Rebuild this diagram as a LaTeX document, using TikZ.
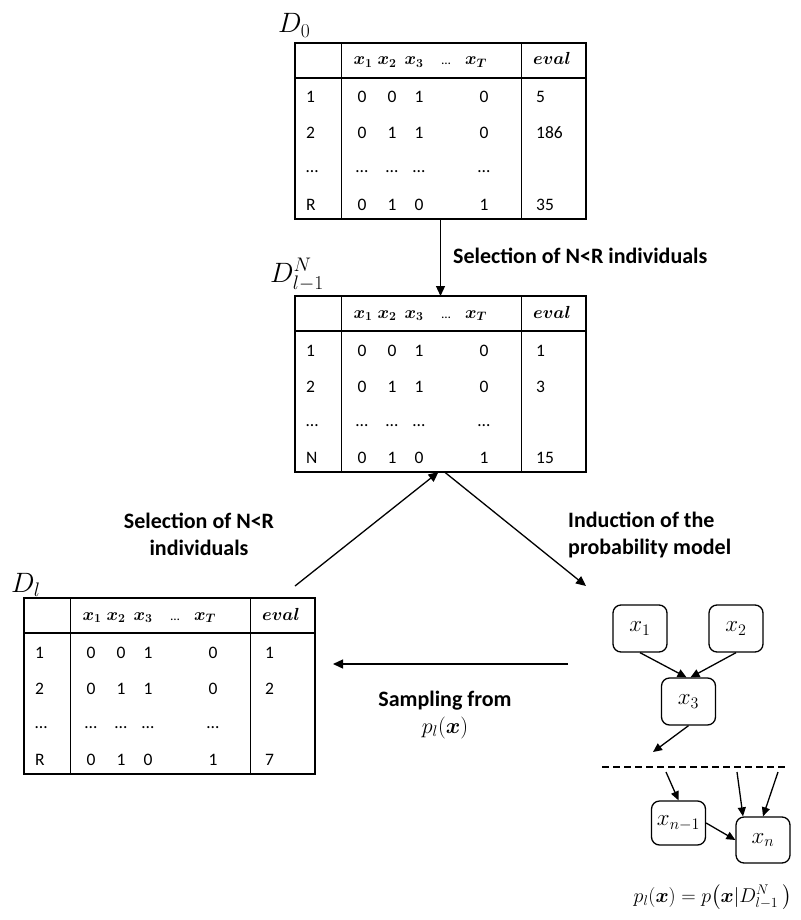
\RequirePackage{fix-cm}
\documentclass[tikz,border=0pt]{standalone}
\usepackage{amsmath}
\usepackage{bm}
\usepackage{fontspec}
\setmainfont{Carlito}
\usetikzlibrary{arrows.meta}
\tikzset{
  tablebox/.style={draw, line width=1.6pt, minimum width=291pt, minimum height=176pt, inner sep=0pt, outer sep=0pt},
  tline/.style={line width=1.6pt},
  cell/.style={font=\fontsize{17.5}{20}\selectfont, inner sep=0pt, anchor=base},
  lcell/.style={cell, anchor=base west},
  hdr/.style={font=\fontsize{17.5}{20}\selectfont, inner sep=0pt, anchor=base},
  dname/.style={font=\fontsize{28}{32}\selectfont, inner sep=0pt, anchor=base west},
  arr/.style={-{Triangle[length=10pt,width=9pt]}, line width=1.3pt},
  garr/.style={-{Triangle[length=9pt,width=8pt]}, line width=1.3pt},
  lbl/.style={font=\bfseries\fontsize{22}{27}\selectfont, align=center, inner sep=0pt},
  var/.style={draw, rounded corners=8pt, line width=1.3pt, minimum width=54pt, minimum height=47pt, inner sep=0pt, font=\fontsize{23}{26}\selectfont},
}
\newcommand\dtable[7]{%
  \begin{scope}[shift={(#2,#3)}]
    \node[tablebox, anchor=north west] (#1) at (0,0) {};
    \draw[tline] (46.5,0) -- (46.5,176) (226.5,0) -- (226.5,176) (0,35) -- (291,35);
    \node[hdr] (#1-h1) at (68,22) {$\bm{x_1}$};
    \node[hdr] (#1-h2) at (92,22) {$\bm{x_2}$};
    \node[hdr] (#1-h3) at (119,22) {$\bm{x_3}$};
    \node[hdr, font=\fontsize{13}{15}\selectfont] (#1-h4) at (151,22) {…};
    \node[hdr] (#1-h5) at (181,22) {$\bm{x_T}$};
    \node[hdr] (#1-h6) at (257,22) {$\bm{eval}$};
    \foreach \rr/\yy/\va/\vb/\vc/\vd in {1/60/0/0/1/0, 2/96/0/1/1/0, 3/130/…/…/…/…, 4/167/0/1/0/1}{
      \node[cell] (#1-\rr-a) at (67,\yy) {\va};
      \node[cell] (#1-\rr-b) at (97,\yy) {\vb};
      \node[cell] (#1-\rr-c) at (124,\yy) {\vc};
      \node[cell] (#1-\rr-d) at (189,\yy) {\vd};
    }
    \node[lcell] (#1-1-l) at (11,60) {1};
    \node[lcell] (#1-2-l) at (11,96) {2};
    \node[lcell] (#1-3-l) at (11,130) {…};
    \node[lcell] (#1-4-l) at (11,167) {#4};
    \node[lcell] (#1-1-e) at (241,60) {#5};
    \node[lcell] (#1-2-e) at (241,96) {#6};
    \node[lcell] (#1-4-e) at (241,167) {#7};
  \end{scope}}
\begin{document}
\begin{tikzpicture}[x=1pt, y=-1pt]
\useasboundingbox[fill=white] (0,0) rectangle (800,920);
\dtable{t0}{295}{43}{R}{5}{186}{35}
\dtable{t1}{295}{296}{N}{1}{3}{15}
\dtable{tl}{24}{598}{R}{1}{2}{7}
\node[dname] (d0) at (278,33) {$D_0$};
\node[dname] (d1) at (270,282) {$D_{l-1}^{N}$};
\node[dname] (dl) at (11,592) {$D_l$};
% top arrow
\draw[arr] (t0.south) -- (t1.north);
\node[lbl, anchor=base west] (s1) at (453,263) {Selection of N<R individuals};
% diagonals
\coordinate (c1) at (295,586);
\coordinate (c2) at (586,586);
\draw[arr] (c1) -- ([xshift=-2pt]t1.south);
\draw[arr] ([xshift=4pt]t1.south) -- (c2);
\node[lbl] (s2) at (199,534) {Selection of N<R\\individuals};
\node[lbl, align=left, anchor=west] (ind) at (568,535) {Induction of the\\probability model};
% sampling arrow
\coordinate (h1) at (568,664);
\coordinate (h2) at (333,664);
\draw[arr] (h1) -- (h2);
\node[lbl] (samp) at (445,715) {Sampling from\\\mdseries$p_l(\bm{x})$};
% graph
\node[var] (v1) at (640,628.5) {$x_1$};
\node[var] (v2) at (736,628.5) {$x_2$};
\node[var] (v3) at (688.5,701.5) {$x_3$};
\node[var, minimum height=44pt] (vn1) at (678.5,823) {$x_{n-1}$};
\node[var, minimum height=46pt] (vn) at (763,840) {$x_n$};
\draw[garr] (v1.south) -- ([xshift=-2pt]v3.north);
\draw[garr] (v2.south) -- ([xshift=2pt]v3.north);
\coordinate (e1) at (653,752);
\draw[garr] (v3.south) -- (e1);
\coordinate (dd1) at (602,767);
\coordinate (dd2) at (787,767);
\draw[line width=1.3pt, dash pattern=on 7pt off 4pt] (dd1) -- (dd2);
\coordinate (e2) at (666,772);
\coordinate (e3) at (737,772);
\coordinate (e4) at (778,772);
\draw[garr] (e2) -- (vn1.north);
\draw[garr] (e3) -- ([xshift=-20pt]vn.north);
\draw[garr] (e4) -- (vn.north);
\draw[garr] (vn1.east) -- (vn.west);
\node[font=\fontsize{20}{24}\selectfont, inner sep=0pt] (pf) at (713,897) {$p_l(\bm{x}) = p\big(\bm{x}|D_{l-1}^{N}\ \big)$};
\end{tikzpicture}
\end{document}
